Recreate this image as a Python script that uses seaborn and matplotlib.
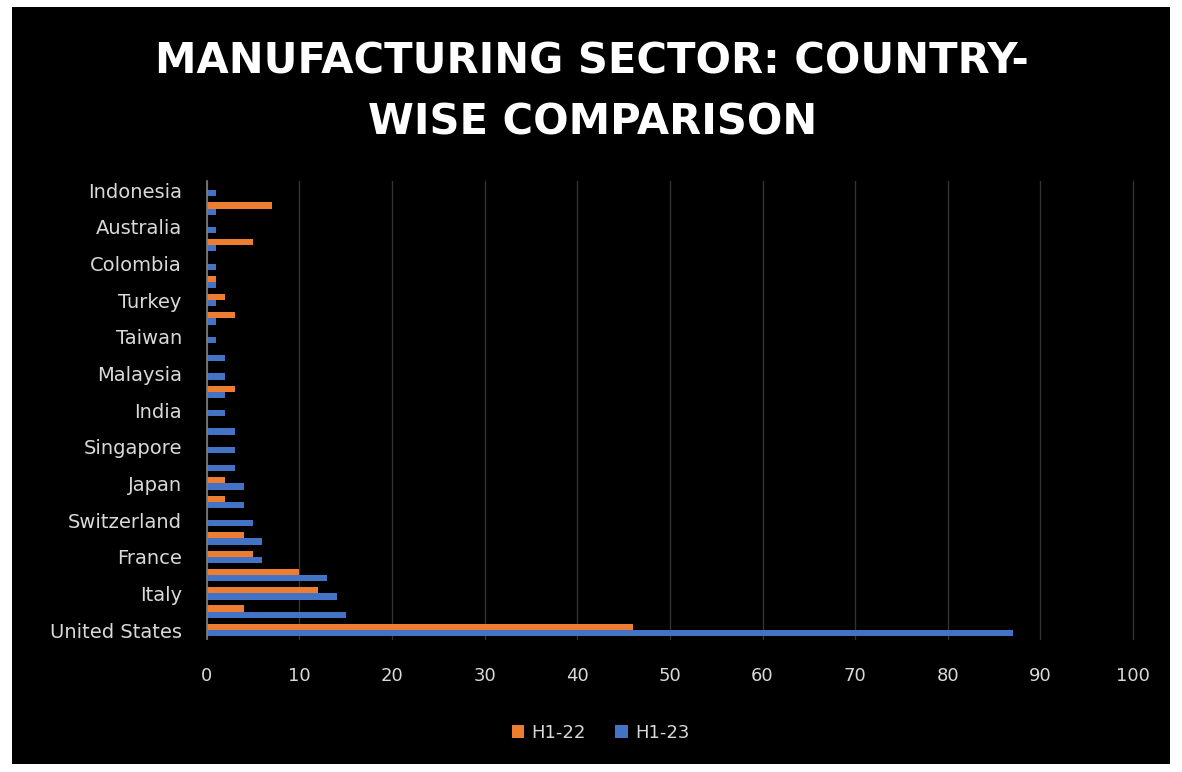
import pandas as pd
import matplotlib.pyplot as plt
import seaborn as sns
from matplotlib.patches import Rectangle

# --- data, top to bottom as drawn ---
countries = ['Indonesia', 'Vietnam', 'Australia', 'UAE', 'Colombia', 'Sweden',
             'Turkey', 'Mexico', 'Taiwan', 'Brazil', 'Malaysia', 'Spain',
             'India', 'South Korea', 'Singapore', 'China', 'Japan', 'Canada',
             'Switzerland', 'Netherlands', 'France', 'Germany', 'Italy',
             'United Kingdom', 'United States']
h1_22 = [0, 7, 0, 5, 0, 1, 2, 3, 0, 0, 0, 3, 0, 0, 0, 0, 2, 2, 0, 4, 5, 10, 12, 4, 46]
h1_23 = [1, 1, 1, 1, 1, 1, 1, 1, 1, 2, 2, 2, 2, 3, 3, 3, 4, 4, 5, 6, 6, 13, 14, 15, 87]
periods = ['H1-22', 'H1-23']
x_ticks = list(range(0, 101, 10))

ORANGE = '#ED7D31'
BLUE = '#4472C4'
TXT = '#D9D9D9'

df = pd.DataFrame({
    'country': countries * 2,
    'value': h1_22 + h1_23,
    'period': [periods[0]] * len(countries) + [periods[1]] * len(countries),
})

sns.set_style('dark')
plt.rcParams['font.family'] = ['DejaVu Sans']

fig = plt.figure(figsize=(11.82, 7.72), dpi=100, facecolor='white')
# black card with a thin white border
fig.patches.append(Rectangle((12 / 1182, 8 / 772), 1158 / 1182, 757 / 772,
                             transform=fig.transFigure, facecolor='black',
                             edgecolor='none', zorder=-10))
ax = fig.add_axes([0.175, 0.172, 0.7835, 0.5935])
ax.set_zorder(5)
ax.set_facecolor('black')

sns.barplot(data=df, y='country', x='value', hue='period', order=countries,
            hue_order=periods, palette=[ORANGE, BLUE], orient='h', width=0.68,
            saturation=1, linewidth=0, edgecolor='none', ax=ax, legend=True)

ax.set_xlim(0, 100)
ax.set_ylim(len(countries) - 0.5, -0.5)
ax.set_xticks(x_ticks)
ax.set_xticklabels([str(t) for t in x_ticks], color=TXT, fontsize=13)
ax.set_yticks(range(len(countries)))
ax.set_yticklabels([c if i % 2 == 0 else '' for i, c in enumerate(countries)],
                   color=TXT, fontsize=14)
ax.tick_params(axis='y', length=0, pad=18)
ax.tick_params(axis='x', length=0, pad=20)
ax.set_xlabel('')
ax.set_ylabel('')
ax.grid(axis='x', color='#333333', linewidth=1)
for gl in ax.get_xgridlines():
    gl.set_clip_on(False)
ax.grid(axis='y', visible=False)
ax.set_axisbelow(True)
for s in ['top', 'right', 'bottom']:
    ax.spines[s].set_visible(False)
ax.spines['left'].set_color('#7F7F7F')
ax.spines['left'].set_linewidth(1.2)

handles, labels = ax.get_legend_handles_labels()
ax.legend(handles, labels, loc='center', bbox_to_anchor=(0.508, 0.0505),
          bbox_transform=fig.transFigure, ncol=2, frameon=False,
          handlelength=0.7, handleheight=0.7, handletextpad=0.4,
          columnspacing=1.6, labelcolor=TXT, fontsize=13)

fig.text(0.501, 1 - 92 / 772, 'MANUFACTURING SECTOR: COUNTRY-\nWISE COMPARISON',
         ha='center', va='center', color='white', fontsize=30,
         fontweight='bold', linespacing=1.6, zorder=10)

fig.savefig('out.png', dpi=100, facecolor=fig.get_facecolor())
